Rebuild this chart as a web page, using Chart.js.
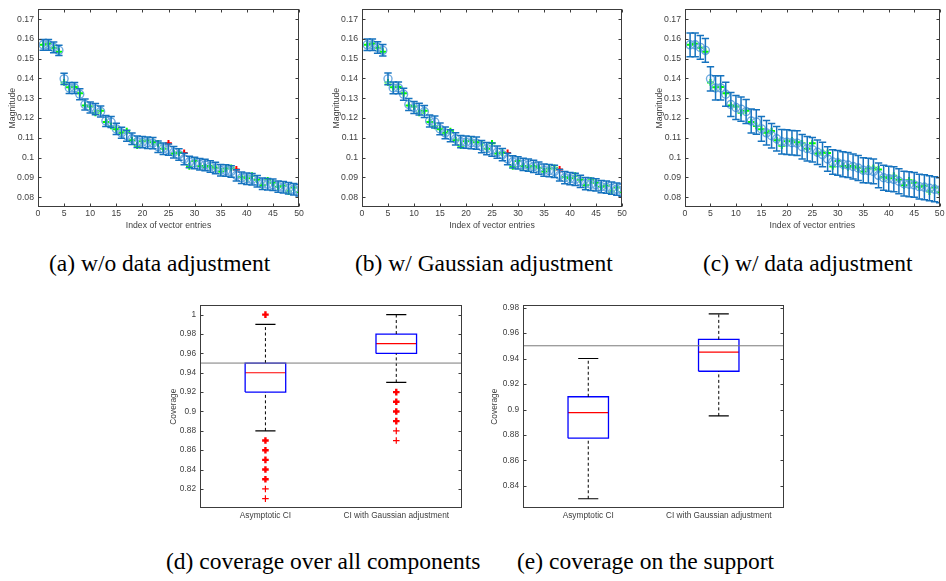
<!DOCTYPE html>
<html>
<head>
<meta charset="utf-8">
<script src="https://cdn.jsdelivr.net/npm/chart.js@4.4.1/dist/chart.umd.min.js"></script>
<style>
  body { margin: 0; background: #fff; width: 946px; height: 581px; position: relative; overflow: hidden; }
  .panel { position: absolute; }
  .panel canvas { display: block; }
  .cap { position: absolute; font-family: "Liberation Serif", "Times New Roman", serif; font-size: 23.5px; line-height: 1; white-space: nowrap; color: #000; }
</style>
</head>
<body>
<div class="panel" style="left:0px;top:0px"><canvas id="chartA" width="312" height="236"></canvas></div>
<div class="panel" style="left:324px;top:0px"><canvas id="chartB" width="312" height="236"></canvas></div>
<div class="panel" style="left:647px;top:0px"><canvas id="chartC" width="299" height="236"></canvas></div>
<div class="panel" style="left:150px;top:296px"><canvas id="chartD" width="320" height="230"></canvas></div>
<div class="panel" style="left:473px;top:296px"><canvas id="chartE" width="320" height="230"></canvas></div>

<div class="cap" style="left:49px;top:252px">(a) w/o data adjustment</div>
<div class="cap" style="left:355px;top:252px">(b) w/ Gaussian adjustment</div>
<div class="cap" style="left:703px;top:252px">(c) w/ data adjustment</div>
<div class="cap" style="left:166px;top:550px">(d) coverage over all components</div>
<div class="cap" style="left:517px;top:550px">(e) coverage on the support</div>

<script>
// --- 数据 ---
const entryIndex = Array.from({ length: 50 }, (_, i) => i + 1);
const xTicksIdx = [0, 5, 10, 15, 20, 25, 30, 35, 40, 45, 50];
const yTicksMag = [0.08, 0.09, 0.1, 0.11, 0.12, 0.13, 0.14, 0.15, 0.16, 0.17];

// 估计值 (圆圈, 误差棒中心)
const estimate = [
  0.1570, 0.1570, 0.1557, 0.1542, 0.1398, 0.1352, 0.1352, 0.1320, 0.1268, 0.1253,
  0.1245, 0.1233, 0.1185, 0.1180, 0.1145, 0.1125, 0.1110, 0.1095, 0.1080, 0.1078,
  0.1075, 0.1073, 0.1055, 0.1045, 0.1040, 0.1027, 0.1015, 0.0993, 0.0978, 0.0973,
  0.0966, 0.0962, 0.0955, 0.0947, 0.0936, 0.0934, 0.0930, 0.0910, 0.0898, 0.0893,
  0.0890, 0.0880, 0.0868, 0.0865, 0.0862, 0.0853, 0.0850, 0.0845, 0.0840, 0.0835
];
// 真实值 (十字)
const truth = [
  0.1570, 0.1575, 0.1555, 0.1535, 0.1380, 0.1355, 0.1357, 0.1325, 0.1263, 0.1258,
  0.1226, 0.1237, 0.1180, 0.1160, 0.1143, 0.1125, 0.1134, 0.1087, 0.1060, 0.1083,
  0.1087, 0.1078, 0.1072, 0.1045, 0.1072, 0.1020, 0.1025, 0.1023, 0.0955, 0.0982,
  0.0957, 0.0951, 0.0957, 0.0948, 0.0930, 0.0945, 0.0948, 0.0940, 0.0902, 0.0895,
  0.0908, 0.0888, 0.0860, 0.0885, 0.0872, 0.0853, 0.0857, 0.0828, 0.0848, 0.0825
];
// 误差棒半宽
const halfA = [
  0.0027, 0.0027, 0.0027, 0.0026, 0.0028, 0.0028, 0.0028, 0.0028, 0.0028, 0.0028,
  0.0028, 0.0028, 0.0028, 0.0028, 0.0028, 0.0028, 0.0028, 0.0029, 0.0029, 0.0029,
  0.0029, 0.0029, 0.0029, 0.0029, 0.0028, 0.0029, 0.0029, 0.0029, 0.0029, 0.0029,
  0.0029, 0.0029, 0.0029, 0.0029, 0.0029, 0.0029, 0.0029, 0.0028, 0.0029, 0.0029,
  0.0029, 0.0029, 0.0029, 0.0029, 0.0029, 0.0029, 0.0029, 0.0029, 0.0029, 0.0029
];
const halfB = [
  0.0029, 0.0029, 0.0029, 0.0029, 0.0030, 0.0030, 0.0030, 0.0030, 0.0030, 0.0030,
  0.0030, 0.0030, 0.0030, 0.0030, 0.0030, 0.0030, 0.0030, 0.0031, 0.0031, 0.0031,
  0.0031, 0.0031, 0.0031, 0.0031, 0.0034, 0.0031, 0.0031, 0.0029, 0.0031, 0.0031,
  0.0031, 0.0031, 0.0031, 0.0031, 0.0031, 0.0031, 0.0031, 0.0029, 0.0031, 0.0031,
  0.0031, 0.0031, 0.0031, 0.0031, 0.0031, 0.0031, 0.0031, 0.0031, 0.0031, 0.0031
];
const halfC = [
  0.0060, 0.0060, 0.0060, 0.0060, 0.0061, 0.0061, 0.0061, 0.0061, 0.0061, 0.0061,
  0.0061, 0.0061, 0.0061, 0.0062, 0.0062, 0.0062, 0.0062, 0.0062, 0.0062, 0.0062,
  0.0062, 0.0062, 0.0062, 0.0062, 0.0062, 0.0062, 0.0062, 0.0062, 0.0062, 0.0063,
  0.0063, 0.0063, 0.0063, 0.0063, 0.0063, 0.0063, 0.0063, 0.0063, 0.0063, 0.0063,
  0.0063, 0.0063, 0.0063, 0.0063, 0.0063, 0.0063, 0.0063, 0.0063, 0.0063, 0.0063
];
// 落在区间外的下标 (红色)
const redA = [25, 28, 38];
const redB = [28, 38];
const redC = [];

// 箱线图
const boxCategories = ['Asymptotic CI', 'CI with Gaussian adjustment'];
const yTicksAll = [0.82, 0.84, 0.86, 0.88, 0.9, 0.92, 0.94, 0.96, 0.98, 1];
const allMedian = [0.94, 0.97];
const allQ1 = [0.92, 0.96];
const allQ3 = [0.95, 0.98];
const allWhiskerLow = [0.88, 0.93];
const allWhiskerHigh = [0.99, 1.0];
const allOutliers = [
  [1.0, 0.87, 0.86, 0.85, 0.84, 0.83, 0.82, 0.81],
  [0.92, 0.91, 0.90, 0.89, 0.88, 0.87]
];
const allOutlierCounts = [
  [3, 3, 3, 3, 3, 3, 1, 1],
  [3, 3, 3, 3, 1, 1]
];
const yTicksSupport = [0.84, 0.86, 0.88, 0.9, 0.92, 0.94, 0.96, 0.98];
const supportMedian = [0.8975, 0.945];
const supportQ1 = [0.8775, 0.93];
const supportQ3 = [0.91, 0.955];
const supportWhiskerLow = [0.83, 0.895];
const supportWhiskerHigh = [0.94, 0.975];
const supportOutliers = [[], []];
const supportOutlierCounts = [[], []];
const coverageTarget = 0.95;

// --- 样式 ---
const SANS = '"Liberation Sans", Arial, Helvetica, sans-serif';
const TEXT_GRAY = '#404040';
const FRAME_GRAY = '#3c3c3c';
const BAR_BLUE = '#1673bf';
const CIRCLE_BLUE = '#6fabe0';
const BOX_HALF = 0.155;
const CAP_HALF = 0.077;

const fmt = v => String(Number(v.toFixed(3)));

// 坐标框 + 向内刻度
const framePlugin = {
  id: 'frame',
  afterDatasetsDraw(chart, args, opts) {
    const { ctx, chartArea: a, scales } = chart;
    const L = Math.round(a.left) + 0.5, R = Math.round(a.right) - 0.5;
    const T = Math.round(a.top) + 0.5, B = Math.round(a.bottom) - 0.5;
    ctx.save();
    ctx.strokeStyle = FRAME_GRAY;
    ctx.lineWidth = 1;
    ctx.strokeRect(L, T, R - L, B - T);
    ctx.beginPath();
    scales.y.ticks.forEach(t => {
      const py = Math.round(scales.y.getPixelForValue(t.value)) + 0.5;
      ctx.moveTo(L, py); ctx.lineTo(L + 3, py);
      ctx.moveTo(R, py); ctx.lineTo(R - 3, py);
    });
    if (opts.xTicks) {
      scales.x.ticks.forEach(t => {
        const px = Math.round(scales.x.getPixelForValue(t.value)) + 0.5;
        ctx.moveTo(px, B); ctx.lineTo(px, B - 3);
        ctx.moveTo(px, T); ctx.lineTo(px, T + 3);
      });
    }
    ctx.stroke();
    ctx.restore();
  }
};

function errorbarPanel(id, half, redList, padRight) {
  const bars = [], caps = [], circles = [], green = [], red = [];
  entryIndex.forEach((x, k) => {
    const lo = estimate[k] - half[k];
    const hi = estimate[k] + half[k];
    bars.push({ x, y: lo }, { x, y: hi }, { x, y: null });
    caps.push({ x, y: lo }, { x, y: hi });
    circles.push({ x, y: estimate[k] });
    (redList.includes(x) ? red : green).push({ x, y: truth[k] });
  });
  const font = { family: SANS, size: 8.7 };
  return new Chart(document.getElementById(id), {
    type: 'scatter',
    data: {
      datasets: [
        { data: bars, showLine: true, spanGaps: false, borderColor: BAR_BLUE, borderWidth: 1.5, pointRadius: 0 },
        { data: caps, pointStyle: 'line', pointRadius: 3.7, pointBorderColor: BAR_BLUE, pointBorderWidth: 1.5 },
        { data: circles, pointStyle: 'circle', pointRadius: 4, pointBorderColor: CIRCLE_BLUE, pointBackgroundColor: 'rgba(0,0,0,0)', pointBorderWidth: 1.4 },
        { data: green, pointStyle: 'cross', pointRadius: 3.4, pointBorderColor: '#00ff00', pointBorderWidth: 2 },
        { data: red, pointStyle: 'cross', pointRadius: 3.4, pointBorderColor: '#ff0000', pointBorderWidth: 2 }
      ]
    },
    options: {
      responsive: false,
      animation: false,
      events: [],
      layout: { padding: { top: 2, right: padRight, left: 0, bottom: 0 } },
      plugins: { legend: { display: false }, tooltip: { enabled: false }, frame: { xTicks: true } },
      scales: {
        x: {
          type: 'linear', min: 0, max: 50,
          afterBuildTicks: s => { s.ticks = xTicksIdx.map(v => ({ value: v })); },
          afterFit: s => { s.height = 29; },
          grid: { display: false, drawTicks: false },
          border: { display: false },
          ticks: { font, color: TEXT_GRAY, padding: 1.5, maxRotation: 0, autoSkip: false, callback: v => fmt(v) },
          title: { display: true, text: 'Index of vector entries', font, color: TEXT_GRAY, padding: { top: 0, bottom: 4.8 } }
        },
        y: {
          min: 0.075, max: 0.175,
          afterBuildTicks: s => { s.ticks = yTicksMag.map(v => ({ value: v })); },
          afterFit: s => { s.width = 38; },
          grid: { display: false, drawTicks: false },
          border: { display: false },
          ticks: { font, color: TEXT_GRAY, padding: 4, autoSkip: false, callback: v => fmt(v) },
          title: { display: true, text: 'Magnitude', font, color: TEXT_GRAY, padding: { top: 7.5, bottom: 0 } }
        }
      }
    },
    plugins: [framePlugin]
  });
}

function boxPanel(id, stats, yMin, yMax, yTicks, titlePad, padRight) {
  const boxes = [], medians = [], whiskers = [], caps = [], outliers = [], outlierW = [];
  boxCategories.forEach((c, k) => {
    const x = k + 1;
    const q1 = stats.q1[k], q3 = stats.q3[k];
    boxes.push({ x: x - BOX_HALF, y: q1 }, { x: x + BOX_HALF, y: q1 }, { x: x + BOX_HALF, y: q3 },
      { x: x - BOX_HALF, y: q3 }, { x: x - BOX_HALF, y: q1 }, { x, y: null });
    medians.push({ x: x - BOX_HALF, y: stats.med[k] }, { x: x + BOX_HALF, y: stats.med[k] }, { x, y: null });
    whiskers.push({ x, y: q3 }, { x, y: stats.hi[k] }, { x, y: null }, { x, y: stats.lo[k] }, { x, y: q1 }, { x, y: null });
    caps.push({ x: x - CAP_HALF, y: stats.hi[k] }, { x: x + CAP_HALF, y: stats.hi[k] }, { x, y: null },
      { x: x - CAP_HALF, y: stats.lo[k] }, { x: x + CAP_HALF, y: stats.lo[k] }, { x, y: null });
    stats.out[k].forEach((v, j) => {
      outliers.push({ x, y: v });
      outlierW.push(stats.outCount[k][j] > 1 ? 2.4 : 1.2);
    });
  });
  const font = { family: SANS, size: 8.3 };
  return new Chart(document.getElementById(id), {
    type: 'scatter',
    data: {
      datasets: [
        { data: [{ x: 0.5, y: coverageTarget }, { x: 2.5, y: coverageTarget }], showLine: true, borderColor: '#7a7a7a', borderWidth: 1, pointRadius: 0 },
        { data: whiskers, showLine: true, spanGaps: false, borderColor: '#000', borderWidth: 1, borderDash: [3, 2.5], pointRadius: 0 },
        { data: caps, showLine: true, spanGaps: false, borderColor: '#000', borderWidth: 1.2, pointRadius: 0 },
        { data: boxes, showLine: true, spanGaps: false, borderColor: '#0000ff', borderWidth: 1.3, pointRadius: 0 },
        { data: medians, showLine: true, spanGaps: false, borderColor: '#ff0000', borderWidth: 1.2, pointRadius: 0 },
        { data: outliers, pointStyle: 'cross', pointRadius: 3.3, pointBorderColor: '#ff0000', pointBorderWidth: outlierW }
      ]
    },
    options: {
      responsive: false,
      animation: false,
      events: [],
      layout: { padding: { top: 7, right: padRight, left: 0, bottom: 0 } },
      plugins: { legend: { display: false }, tooltip: { enabled: false }, frame: { xTicks: false } },
      scales: {
        x: {
          type: 'linear', min: 0.5, max: 2.5,
          afterBuildTicks: s => { s.ticks = [1, 2].map(v => ({ value: v })); },
          afterFit: s => { s.height = 17.7; },
          grid: { display: false, drawTicks: false },
          border: { display: false },
          ticks: { font, color: TEXT_GRAY, padding: 2.4, maxRotation: 0, autoSkip: false, callback: v => boxCategories[v - 1] }
        },
        y: {
          min: yMin, max: yMax,
          afterBuildTicks: s => { s.ticks = yTicks.map(v => ({ value: v })); },
          afterFit: s => { s.width = 50; },
          grid: { display: false, drawTicks: false },
          border: { display: false },
          ticks: { font, color: TEXT_GRAY, padding: 4, autoSkip: false, callback: v => fmt(v) },
          title: { display: true, text: 'Coverage', font, color: TEXT_GRAY, padding: { top: titlePad, bottom: 0 } }
        }
      }
    },
    plugins: [framePlugin]
  });
}

errorbarPanel('chartA', halfA, redA, 13);
errorbarPanel('chartB', halfB, redB, 14);
errorbarPanel('chartC', halfC, redC, 1);

boxPanel('chartD', {
  med: allMedian, q1: allQ1, q3: allQ3, lo: allWhiskerLow, hi: allWhiskerHigh,
  out: allOutliers, outCount: allOutlierCounts
}, 0.8, 1.01, yTicksAll, 19, 8.3);

boxPanel('chartE', {
  med: supportMedian, q1: supportQ1, q3: supportQ3, lo: supportWhiskerLow, hi: supportWhiskerHigh,
  out: supportOutliers, outCount: supportOutlierCounts
}, 0.8225, 0.982, yTicksSupport, 17, 9);
</script>
</body>
</html>
